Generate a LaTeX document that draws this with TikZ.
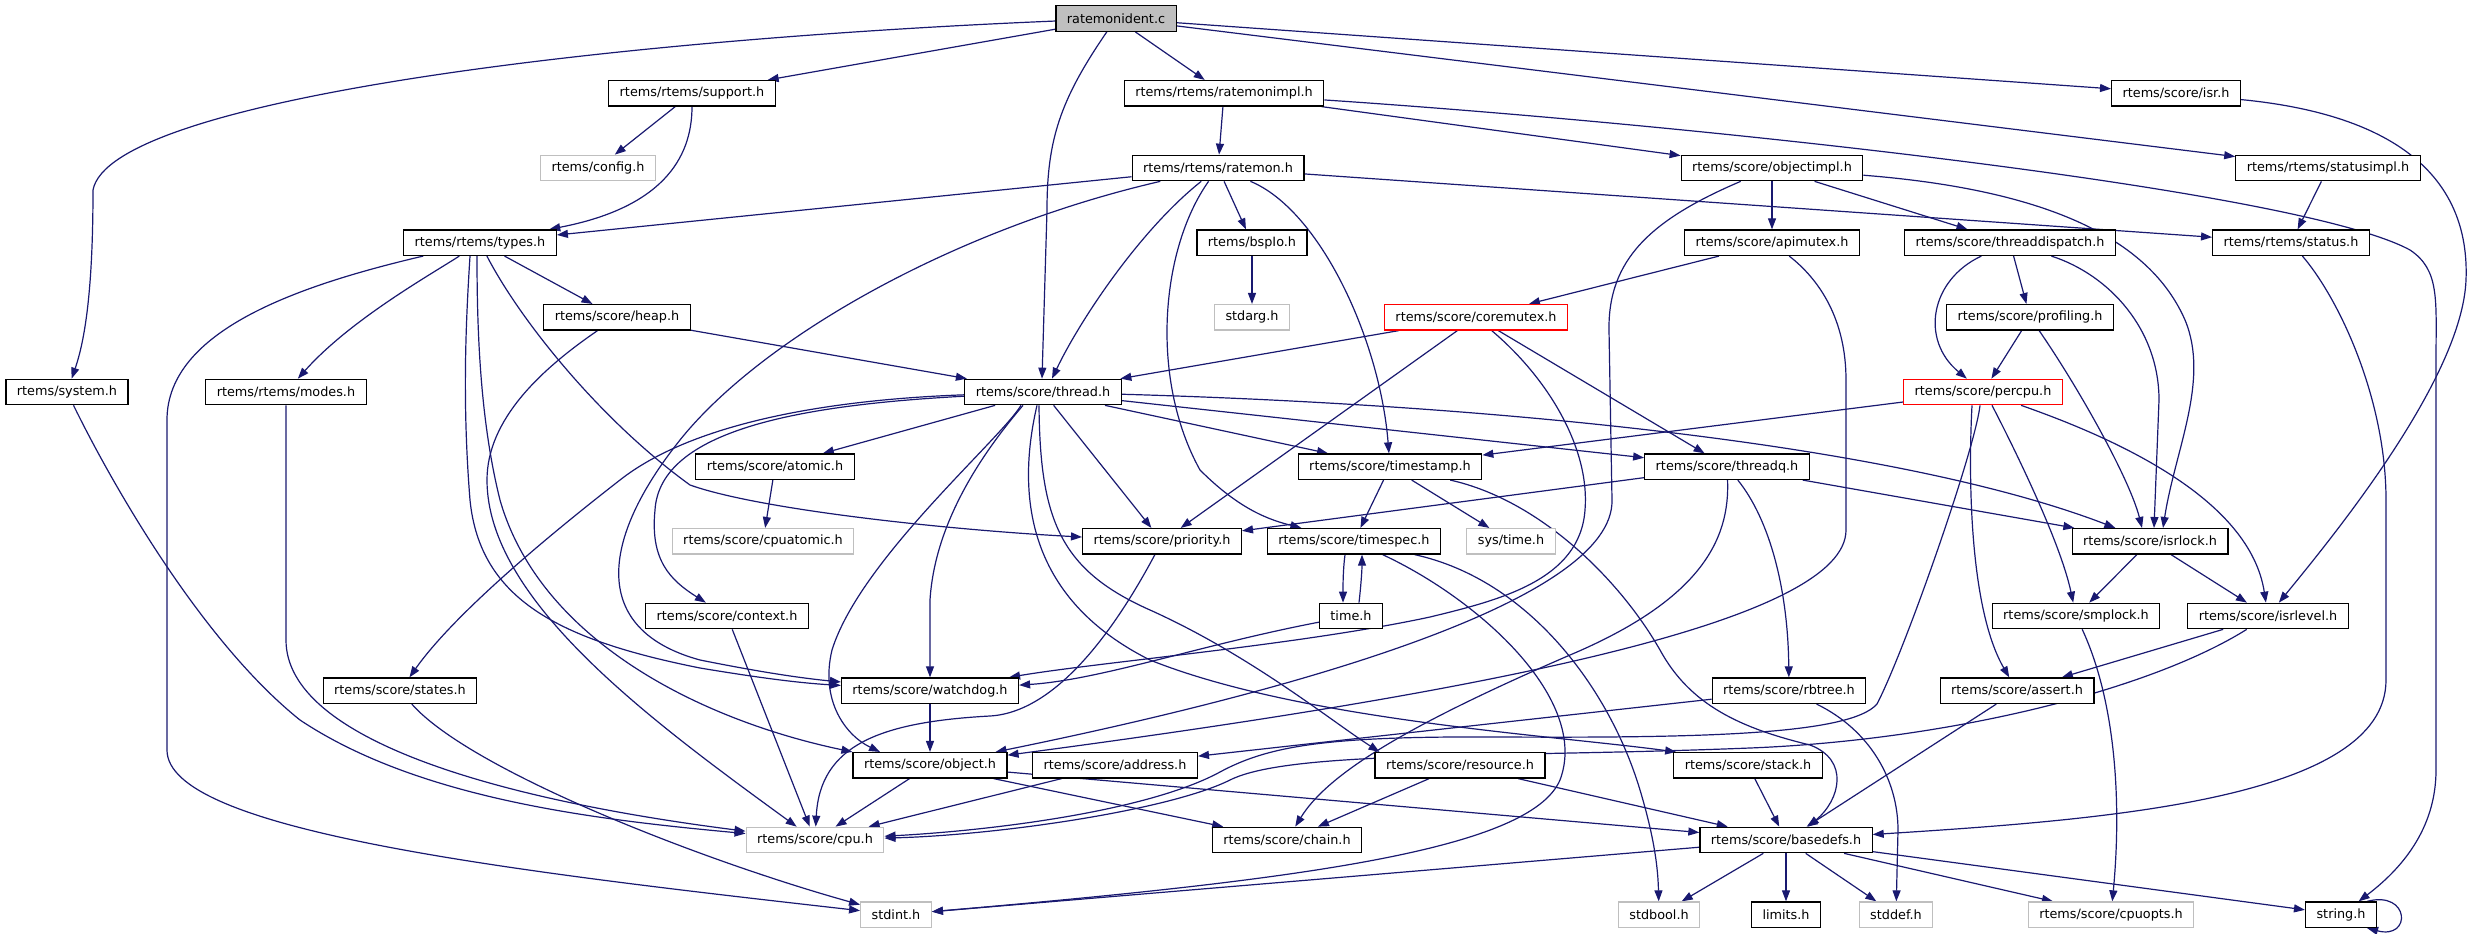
\documentclass[tikz,border=0pt]{standalone}
\usepackage{fontspec}
\setmainfont{DejaVu Sans}
\usetikzlibrary{arrows.meta}
\definecolor{edgec}{HTML}{191970}
\definecolor{greyb}{HTML}{BFBFBF}
\pgfdeclarelayer{bg}
\pgfsetlayers{bg,main}
\tikzset{
  box/.style={draw=black, line width=1.2pt, fill=white, text=black,
    font=\fontsize{12.8}{15}\selectfont, minimum height=25.5pt,
    inner xsep=11pt, inner ysep=0pt},
  ext/.style={box, draw=greyb},
  trunc/.style={box, draw=red},
  root/.style={box, fill=greyb},
  dep/.style={draw=edgec, line width=1.2pt, -{Triangle[length=11pt,width=8pt]}},
}
\begin{document}
\begin{tikzpicture}[x=1pt,y=-1pt]
\useasboundingbox (0,0) rectangle (2474,934);
% row 0
\node[root] (ratemonident) at (1116,18.5) {ratemonident.c};
% row 1
\node[box] (support) at (692,93.3) {rtems/rtems/support.h};
\node[box] (ratemonimpl) at (1224,93.3) {rtems/rtems/ratemonimpl.h};
\node[box] (isr) at (2176,93.3) {rtems/score/isr.h};
% row 2
\node[ext] (config) at (598,168) {rtems/config.h};
\node[box] (ratemon) at (1218,168) {rtems/rtems/ratemon.h};
\node[box] (objectimpl) at (1772,168) {rtems/score/objectimpl.h};
\node[box] (statusimpl) at (2328,168) {rtems/rtems/statusimpl.h};
% row 3
\node[box] (types) at (480,242.7) {rtems/rtems/types.h};
\node[box] (bspio) at (1252,242.7) {rtems/bspIo.h};
\node[box] (apimutex) at (1772,242.7) {rtems/score/apimutex.h};
\node[box] (threaddispatch) at (2010,242.7) {rtems/score/threaddispatch.h};
\node[box] (status) at (2291,242.7) {rtems/rtems/status.h};
% row 4
\node[box] (heap) at (617,317.3) {rtems/score/heap.h};
\node[ext] (stdarg) at (1252,317.3) {stdarg.h};
\node[trunc] (coremutex) at (1476,317.3) {rtems/score/coremutex.h};
\node[box] (profiling) at (2030,317.3) {rtems/score/profiling.h};
% row 5
\node[box] (system) at (67,392) {rtems/system.h};
\node[box] (modes) at (286,392) {rtems/rtems/modes.h};
\node[box] (thread) at (1043,392) {rtems/score/thread.h};
\node[trunc] (percpu) at (1983,392) {rtems/score/percpu.h};
% row 6
\node[box] (atomic) at (775,466.7) {rtems/score/atomic.h};
\node[box] (timestamp) at (1390,466.7) {rtems/score/timestamp.h};
\node[box] (threadq) at (1727,466.7) {rtems/score/threadq.h};
% row 7
\node[ext] (cpuatomic) at (763,541.3) {rtems/score/cpuatomic.h};
\node[box] (priority) at (1162,541.3) {rtems/score/priority.h};
\node[box] (timespec) at (1354,541.3) {rtems/score/timespec.h};
\node[ext] (systime) at (1511,541.3) {sys/time.h};
\node[box] (isrlock) at (2150,541.3) {rtems/score/isrlock.h};
% row 8
\node[box] (context) at (727,616) {rtems/score/context.h};
\node[box] (timeh) at (1351,616) {time.h};
\node[box] (smplock) at (2076,616) {rtems/score/smplock.h};
\node[box] (isrlevel) at (2268,616) {rtems/score/isrlevel.h};
% row 9
\node[box] (states) at (400,690.7) {rtems/score/states.h};
\node[box] (watchdog) at (930,690.7) {rtems/score/watchdog.h};
\node[box] (rbtree) at (1789,690.7) {rtems/score/rbtree.h};
\node[box] (assert) at (2017,690.7) {rtems/score/assert.h};
% row 10
\node[box] (object) at (930,765.3) {rtems/score/object.h};
\node[box] (address) at (1115,765.3) {rtems/score/address.h};
\node[box] (resource) at (1460,765.3) {rtems/score/resource.h};
\node[box] (stack) at (1748,765.3) {rtems/score/stack.h};
% row 11
\node[ext] (cpu) at (815,840) {rtems/score/cpu.h};
\node[box] (chain) at (1287,840) {rtems/score/chain.h};
\node[box] (basedefs) at (1786,840) {rtems/score/basedefs.h};
% row 12
\node[ext] (stdint) at (896,914.7) {stdint.h};
\node[ext] (stdbool) at (1659,914.7) {stdbool.h};
\node[box] (limits) at (1786,914.7) {limits.h};
\node[ext] (stddef) at (1896,914.7) {stddef.h};
\node[ext] (cpuopts) at (2111,914.7) {rtems/score/cpuopts.h};
\node[box] (stringh) at (2341,914.7) {string.h};

\begin{pgfonlayer}{bg}
% ratemonident.c
\draw[dep] (ratemonident) .. controls (600,40) and (110,100) .. (93,190) .. controls (93,290) and (85,340) .. (system);
\draw[dep] (ratemonident) -- (support);
\draw[dep] (ratemonident) .. controls (1060,100) and (1047,140) .. (1047,210) -- ([xshift=-1pt]thread.north);
\draw[dep] (ratemonident) -- (ratemonimpl);
\draw[dep] (ratemonident) -- (isr);
\draw[dep] (ratemonident) -- (statusimpl);
% support.h
\draw[dep] (support) -- (config);
\draw[dep] (support) .. controls (692,160) and (660,208) .. (types);
% ratemonimpl.h
\draw[dep] (ratemonimpl) -- (ratemon);
\draw[dep] (ratemonimpl) -- (objectimpl);
\draw[dep] (ratemonimpl) .. controls (1700,125) and (2300,190) .. (2410,250) .. controls (2440,270) and (2436,300) .. (2436,360) -- (2436,770) .. controls (2436,830) and (2400,870) .. (stringh);
% ratemon.h
\draw[dep] (ratemon) -- (types);
\draw[dep] (ratemon) .. controls (950,230) and (760,340) .. (680,440) .. controls (600,540) and (590,630) .. (700,660) .. controls (760,672) and (800,678) .. (watchdog);
\draw[dep] (ratemon) .. controls (1140,230) and (1080,320) .. ([xshift=9pt]thread.north);
\draw[dep] (ratemon) -- (bspio);
\draw[dep] (ratemon) .. controls (1320,210) and (1380,340) .. (timestamp);
\draw[dep] (ratemon) .. controls (1160,250) and (1150,380) .. (1200,470) .. controls (1240,510) and (1270,520) .. (timespec);
\draw[dep] (ratemon) -- (status);
% objectimpl.h
\draw[dep] (objectimpl) -- (apimutex);
\draw[dep] (objectimpl) -- (threaddispatch);
\draw[dep] (objectimpl) .. controls (2050,190) and (2150,240) .. (2185,320) .. controls (2210,380) and (2175,450) .. ([xshift=13pt]isrlock.north);
\draw[dep] (objectimpl) .. controls (1650,220) and (1608,260) .. (1609,330) -- (1612,500) .. controls (1614,600) and (1300,690) .. (object);
% statusimpl.h, isr.h
\draw[dep] (statusimpl) -- (status);
\draw[dep] (isr) .. controls (2400,115) and (2470,180) .. (2466,280) .. controls (2462,380) and (2330,540) .. (isrlevel);
% types.h
\draw[dep] (types) -- (heap);
\draw[dep] (types) .. controls (430,275) and (350,320) .. (modes);
\draw[dep] (types) .. controls (300,285) and (167,330) .. (167,420) -- (167,750) .. controls (167,830) and (500,870) .. (stdint);
\draw[dep] (types) .. controls (520,320) and (600,420) .. (690,485) .. controls (760,510) and (950,530) .. (priority);
\draw[dep] ([xshift=-10pt]types.south) .. controls (466,320) and (462,400) .. (470,500) .. controls (480,600) and (560,640) .. (700,668) .. controls (760,678) and (800,683) .. (watchdog);
\draw[dep] ([xshift=-3pt]types.south) .. controls (477,330) and (480,420) .. (500,500) .. controls (540,640) and (700,720) .. (object.north west);
% bspIo.h, apimutex.h
\draw[dep] (bspio) -- (stdarg);
\draw[dep] (apimutex) -- (coremutex);
\draw[dep] (apimutex) .. controls (1820,280) and (1846,320) .. (1846,380) -- (1846,530) .. controls (1846,620) and (1500,690) .. (object);
% threaddispatch.h
\draw[dep] (threaddispatch) .. controls (1930,280) and (1920,340) .. (percpu);
\draw[dep] (threaddispatch) -- (profiling);
\draw[dep] (threaddispatch) .. controls (2110,275) and (2159,330) .. (2159,400) -- ([xshift=4pt]isrlock.north);
% status.h
\draw[dep] (status) .. controls (2340,300) and (2386,400) .. (2386,500) -- (2386,680) .. controls (2386,800) and (2100,820) .. (basedefs);
% heap.h
\draw[dep] (heap) -- (thread);
\draw[dep] (heap) .. controls (540,370) and (487,420) .. (487,480) .. controls (487,600) and (650,720) .. (cpu);
% coremutex.h
\draw[dep] (coremutex) -- (thread);
\draw[dep] (coremutex) -- (priority);
\draw[dep] (coremutex) .. controls (1550,380) and (1590,450) .. (1585,510) .. controls (1580,580) and (1500,600) .. (1430,617) .. controls (1300,645) and (1100,662) .. (watchdog);
\draw[dep] (coremutex) -- (threadq);
% profiling.h
\draw[dep] (profiling) -- (percpu);
\draw[dep] (profiling) .. controls (2080,390) and (2130,480) .. ([xshift=-8pt]isrlock.north);
% modes.h, system.h
\draw[dep] (modes) -- (286,640) .. controls (286,740) and (500,800) .. (cpu);
\draw[dep] (system) .. controls (110,480) and (200,640) .. (300,720) .. controls (420,800) and (600,820) .. (cpu);
% thread.h
\draw[dep] (thread) -- (atomic);
\draw[dep] (thread) .. controls (800,405) and (660,430) .. (655,510) .. controls (650,560) and (670,580) .. (context);
\draw[dep] (thread) .. controls (820,400) and (690,425) .. (620,480) .. controls (530,550) and (450,620) .. (states);
\draw[dep] ([xshift=-22pt]thread.south) .. controls (1000,440) and (860,560) .. (832,650) .. controls (820,700) and (845,735) .. ([xshift=-50pt]object.north);
\draw[dep] ([xshift=-20pt]thread.south) .. controls (985,450) and (935,520) .. (930,600) -- (watchdog);
\draw[dep] (thread) -- (priority);
\draw[dep] (thread) -- (timestamp);
\draw[dep] (thread) -- (threadq);
\draw[dep] (thread) .. controls (1500,405) and (1900,445) .. (isrlock);
\draw[dep] ([xshift=-4pt]thread.south) .. controls (1040,520) and (1060,570) .. (1150,610) .. controls (1250,655) and (1330,720) .. ([xshift=5pt]resource.north west);
\draw[dep] ([xshift=-6pt]thread.south) .. controls (1015,500) and (1030,600) .. (1150,660) .. controls (1300,720) and (1550,735) .. ([xshift=3pt]stack.north west);
% percpu.h
\draw[dep] (percpu) -- (timestamp);
\draw[dep] ([xshift=-3pt]percpu.south) .. controls (1975,450) and (1905,650) .. (1877,704) .. controls (1850,735) and (1700,738) .. (1500,737) .. controls (1330,736) and (1270,745) .. (1220,772) .. controls (1150,810) and (1000,830) .. (cpu);
\draw[dep] ([xshift=-11pt]percpu.south) .. controls (1968,480) and (1970,610) .. (assert);
\draw[dep] ([xshift=9pt]percpu.south) .. controls (2010,440) and (2060,540) .. (smplock);
\draw[dep] (percpu) .. controls (2120,440) and (2250,500) .. (isrlevel);
% atomic.h, timestamp.h
\draw[dep] (atomic) -- (cpuatomic);
\draw[dep] (timestamp) -- (timespec);
\draw[dep] (timestamp) -- (systime);
\draw[dep] (timestamp) .. controls (1540,500) and (1620,580) .. (1660,650) .. controls (1690,705) and (1740,728) .. (1810,745) .. controls (1850,760) and (1840,800) .. ([xshift=22pt]basedefs.north);
% threadq.h
\draw[dep] (threadq) -- (priority);
\draw[dep] (threadq) -- (isrlock);
\draw[dep] (threadq) .. controls (1770,520) and (1788,590) .. (rbtree);
\draw[dep] (threadq) .. controls (1730,540) and (1700,600) .. (1570,655) .. controls (1420,720) and (1330,770) .. (chain);
% priority.h
\draw[dep] (priority) .. controls (1120,620) and (1060,712) .. (990,716) .. controls (880,722) and (820,745) .. (cpu);
% timespec.h, time.h
\draw[dep] ([xshift=-9pt]timespec.south) .. controls (1343,570) and (1343,585) .. ([xshift=-8pt]timeh.north);
\draw[dep] ([xshift=8pt]timeh.north) .. controls (1361,585) and (1362,570) .. ([xshift=8pt]timespec.south);
\draw[dep] (timespec) .. controls (1480,600) and (1590,700) .. (1560,780) .. controls (1530,850) and (1300,880) .. (stdint);
\draw[dep] (timespec) .. controls (1530,580) and (1610,690) .. (1640,790) .. controls (1655,840) and (1658,870) .. (stdbool);
\draw[dep] (timeh) .. controls (1200,645) and (1100,680) .. (watchdog);
% isrlock.h, smplock.h, isrlevel.h
\draw[dep] (isrlock) -- (smplock);
\draw[dep] (isrlock) -- (isrlevel);
\draw[dep] (smplock) .. controls (2115,700) and (2122,800) .. (cpuopts);
\draw[dep] (isrlevel) -- (assert);
\draw[dep] (isrlevel) .. controls (2150,690) and (1950,740) .. (1750,748) .. controls (1500,758) and (1290,750) .. (1230,780) .. controls (1170,810) and (1000,835) .. (cpu);
% context.h, states.h, watchdog.h, rbtree.h, assert.h
\draw[dep] (context) -- (cpu);
\draw[dep] (states) .. controls (470,770) and (700,860) .. (stdint);
\draw[dep] (watchdog) -- (object);
\draw[dep] (rbtree) -- (address);
\draw[dep] (rbtree) .. controls (1870,730) and (1898,780) .. (1898,830) -- (stddef);
\draw[dep] (assert) -- (basedefs);
% object.h, address.h, resource.h, stack.h
\draw[dep] (object) -- (cpu);
\draw[dep] (object) -- (chain);
\draw[dep] (object) -- (basedefs);
\draw[dep] (address) -- (cpu);
\draw[dep] (resource) -- (chain);
\draw[dep] (resource) -- (basedefs);
\draw[dep] (stack) -- (basedefs);
% basedefs.h
\draw[dep] (basedefs) -- (stdint);
\draw[dep] (basedefs) -- (stdbool);
\draw[dep] (basedefs) -- (limits);
\draw[dep] (basedefs) -- (stddef);
\draw[dep] (basedefs) -- (cpuopts);
\draw[dep] (basedefs) -- (stringh);
% string.h self
\draw[dep] ([xshift=-10pt]stringh.north east) .. controls (2410,890) and (2412,940) .. ([xshift=-10pt]stringh.south east);
\end{pgfonlayer}
\end{tikzpicture}
\end{document}
